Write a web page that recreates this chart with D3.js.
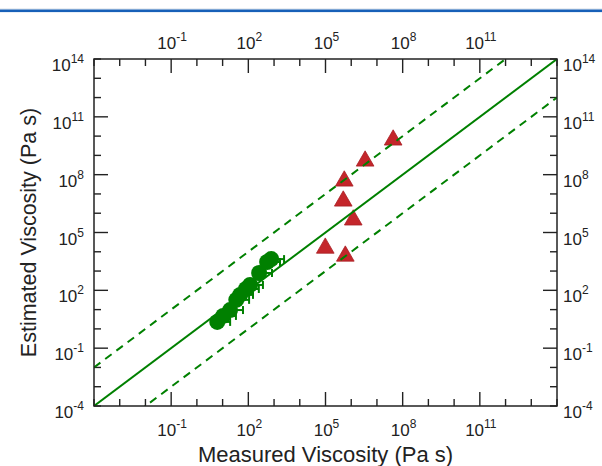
<!DOCTYPE html>
<head>
    <meta charset="utf-8">
    <title>Viscosity</title>
    <script src="https://cdn.jsdelivr.net/npm/d3@7"></script>
    <style>
        body { margin: 0; background: #fff; }
        svg { display: block; font-family: "Liberation Sans", Arial, sans-serif; }
    </style>
</head>
<body>
    <svg id="chart"></svg>
    <script>
        // green group: measured, estimated, upper end of error bar (Pa s)
        let greenMeasured = [6.2, 10.5, 19.5, 34, 48, 81, 117, 263, 537, 776];
        let greenEstimated = [2.3, 4.7, 9.5, 32, 58, 117, 190, 794, 2950, 4170];
        let greenHigh = [19.6, 33, 62, 107, 152, 256, 370, 830, 1700, 2450];

        // red group
        let redMeasured = [4.27e7, 3.47e6, 5.37e5, 4.9e5, 1.2e6, 9.8e4, 5.9e5];
        let redEstimated = [6.3e9, 5.1e8, 4.7e7, 4.3e6, 4.5e5, 1.55e4, 6.0e3];

        let majorExp = [-1, 2, 5, 8, 11];
        let allExp = d3.range(-4, 15);
        let edgeExp = [-4, 14];
        let lineFactors = [1, 100, 0.01];

        const W = 602, H = 466;
        const m = { left: 94, right: 557, top: 59, bottom: 406 };
        const green = "#008000";

        let svg = d3.select("#chart").attr("width", W).attr("height", H);

        // blue rule at page top
        svg.append("rect").attr("x", 0).attr("y", 8.5).attr("width", W).attr("height", 1)
            .attr("fill", "#d6dde8");
        svg.append("rect").attr("x", 0).attr("y", 9.5).attr("width", W).attr("height", 2.6)
            .attr("fill", "#1760b8");

        let x = d3.scaleLog().domain([1e-4, 1e14]).range([m.left, m.right]);
        let y = d3.scaleLog().domain([1e-4, 1e14]).range([m.bottom, m.top]);

        svg.append("clipPath").attr("id", "clip").append("rect")
            .attr("x", m.left).attr("y", m.top)
            .attr("width", m.right - m.left).attr("height", m.bottom - m.top);

        // ticks
        let tickG = svg.append("g").attr("stroke", "#222").attr("stroke-width", 1.4);
        allExp.forEach(e => {
            let len = majorExp.includes(e) ? 14 : 7;
            let v = Math.pow(10, e);
            tickG.append("line").attr("x1", x(v)).attr("x2", x(v)).attr("y1", m.bottom).attr("y2", m.bottom - len);
            tickG.append("line").attr("x1", x(v)).attr("x2", x(v)).attr("y1", m.top).attr("y2", m.top + len);
            tickG.append("line").attr("y1", y(v)).attr("y2", y(v)).attr("x1", m.left).attr("x2", m.left + len);
            tickG.append("line").attr("y1", y(v)).attr("y2", y(v)).attr("x1", m.right).attr("x2", m.right - len);
        });

        // markers
        let gMarks = svg.append("g").attr("clip-path", "url(#clip)");
        let greenData = greenMeasured.map((d, i) => ({ mx: d, ey: greenEstimated[i], hi: greenHigh[i] }));
        greenData.forEach(d => {
            gMarks.append("line").attr("x1", x(d.mx)).attr("x2", x(d.hi))
                .attr("y1", y(d.ey)).attr("y2", y(d.ey))
                .attr("stroke", green).attr("stroke-width", 2);
            gMarks.append("line").attr("x1", x(d.hi)).attr("x2", x(d.hi))
                .attr("y1", y(d.ey) - 4).attr("y2", y(d.ey) + 4)
                .attr("stroke", green).attr("stroke-width", 2);
        });
        gMarks.selectAll(".dot").data(greenData).enter().append("circle")
            .attr("class", "dot")
            .attr("cx", d => x(d.mx)).attr("cy", d => y(d.ey)).attr("r", 8)
            .attr("fill", green);

        let redData = redMeasured.map((d, i) => ({ mx: d, ey: redEstimated[i] }));
        gMarks.selectAll(".tri").data(redData).enter().append("path")
            .attr("class", "tri")
            .attr("d", d3.symbol().type(d3.symbolTriangle).size(135))
            .attr("transform", d => `translate(${x(d.mx)},${y(d.ey)})`)
            .attr("fill", "#c4262b").attr("stroke", "#a81f24").attr("stroke-width", 0.8);

        // reference lines
        let gLines = svg.append("g").attr("clip-path", "url(#clip)");
        lineFactors.forEach(f => {
            gLines.append("line")
                .attr("x1", x(1e-4)).attr("y1", y(1e-4 * f))
                .attr("x2", x(1e14)).attr("y2", y(1e14 * f))
                .attr("stroke", green).attr("stroke-width", 2)
                .attr("stroke-dasharray", f === 1 ? null : "8,6");
        });

        // frame
        svg.append("rect").attr("x", m.left).attr("y", m.top)
            .attr("width", m.right - m.left).attr("height", m.bottom - m.top)
            .attr("fill", "none").attr("stroke", "#222").attr("stroke-width", 1.5);

        function powLabel(sel, e, anchor) {
            let t = sel.append("text").attr("text-anchor", anchor).attr("fill", "#222");
            t.append("tspan").attr("font-size", 17).text("10");
            t.append("tspan").attr("font-size", 12).attr("dy", -8).text(e);
            return t;
        }

        // bottom & top labels
        majorExp.forEach(e => {
            let v = Math.pow(10, e);
            powLabel(svg, e, "middle").attr("x", x(v) + 1).attr("y", 436);
            powLabel(svg, e, "middle").attr("x", x(v) + 1).attr("y", 49);
        });
        // left & right labels
        majorExp.concat(edgeExp).forEach(e => {
            let v = Math.pow(10, e);
            powLabel(svg, e, "end").attr("x", m.left - 10).attr("y", y(v) + 12);
            powLabel(svg, e, "start").attr("x", m.right + 6).attr("y", y(v) + 12);
        });

        svg.append("text").attr("x", (m.left + m.right) / 2).attr("y", 462)
            .attr("text-anchor", "middle").attr("font-size", 22).attr("fill", "#222")
            .text("Measured Viscosity (Pa s)");
        svg.append("text")
            .attr("transform", `translate(36,${(m.top + m.bottom) / 2}) rotate(-90)`)
            .attr("text-anchor", "middle").attr("font-size", 21.5).attr("fill", "#222")
            .text("Estimated Viscosity (Pa s)");
    </script>
</body>
